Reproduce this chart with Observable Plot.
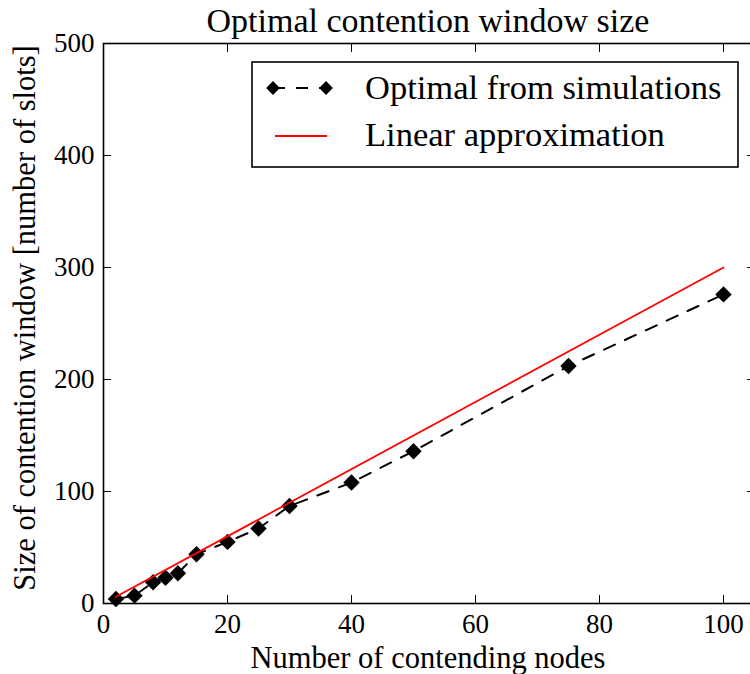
<!DOCTYPE html>
<html><head><meta charset="utf-8">
<script src="https://cdn.jsdelivr.net/npm/d3@7"></script>
<script src="https://cdn.jsdelivr.net/npm/@observablehq/plot@0.6"></script>
<style>
html,body{margin:0;padding:0;background:#fff;overflow:hidden;}
#wrap{position:relative;width:750px;height:674px;}
#wrap svg{position:absolute;left:0;top:0;overflow:hidden;}
</style></head><body><div id="wrap"></div>
<script>
// ---- data ----
const nodes = [2, 5, 8, 10, 12, 15, 20, 25, 30, 40, 50, 75, 100];
const optimal = [4, 7, 19, 23, 27, 44, 55, 67, 87, 108, 136, 212, 276];
const linearX = [2, 100];
const linearY = [6, 300];
const xTicks = [0, 20, 40, 60, 80, 100];
const yTicks = [0, 100, 200, 300, 400, 500];
const titleText = "Optimal contention window size";
const xLabel = "Number of contending nodes";
const yLabel = "Size of contention window [number of slots]";
const seriesNames = ["Optimal from simulations", "Linear approximation"];

const FONT = "'Liberation Serif', 'Times New Roman', serif";
const sim = nodes.map((n, i) => ({n, w: optimal[i]}));
const lin = linearX.map((n, i) => ({n, w: linearY[i]}));
const R = 7.4;
const RL = 6.2;

const plot = Plot.plot({
  width: 750, height: 674,
  marginLeft: 103, marginRight: -4, marginTop: 43, marginBottom: 71,
  style: {fontFamily: FONT, fontSize: "27px", color: "black", background: "white", overflow: "hidden"},
  x: {domain: [0, 105]},
  y: {domain: [0, 500]},
  marks: [
    Plot.line(sim, {x: "n", y: "w", stroke: "black", strokeWidth: 2, strokeDasharray: "12,11"}),
    Plot.dot(sim, {x: "n", y: "w", symbol: "diamond2", r: R, fill: "black", stroke: "none"}),
    Plot.line(lin, {x: "n", y: "w", stroke: "#ff0000", strokeWidth: 1.8}),
    Plot.axisX({anchor: "bottom", ticks: xTicks, tickSize: -8, tickPadding: 18, label: null, strokeWidth: 1}),
    Plot.axisX({anchor: "top", ticks: xTicks, tickSize: -8, tickFormat: () => "", label: null, strokeWidth: 1}),
    Plot.axisY({anchor: "left", ticks: yTicks, tickSize: -8, tickPadding: 17, label: null, strokeWidth: 1}),
    Plot.axisY({anchor: "right", ticks: yTicks, tickSize: -8, tickFormat: () => "", label: null, strokeWidth: 1}),
    Plot.frame({stroke: "black", strokeWidth: 1.6})
  ]
});
const wrap = document.getElementById("wrap");
wrap.appendChild(plot);

// ---- overlay: title, axis labels, legend ----
const ov = d3.select(wrap).append("svg")
  .attr("width", 750).attr("height", 674)
  .style("pointer-events", "none")
  .style("font-family", FONT);

ov.append("text").attr("x", 428).attr("y", 32).attr("text-anchor", "middle")
  .attr("font-size", 34).text(titleText);
ov.append("text").attr("x", 428).attr("y", 668).attr("text-anchor", "middle")
  .attr("font-size", 30.5).text(xLabel);
ov.append("text").attr("transform", "translate(35,318) rotate(-90)").attr("text-anchor", "middle")
  .attr("font-size", 30.5).text(yLabel);

const lg = ov.append("g");
lg.append("rect").attr("x", 252).attr("y", 62).attr("width", 486).attr("height", 105)
  .attr("fill", "white").attr("stroke", "black").attr("stroke-width", 1.6);
lg.append("line").attr("x1", 273).attr("x2", 326).attr("y1", 88).attr("y2", 88)
  .attr("stroke", "black").attr("stroke-width", 2).attr("stroke-dasharray", "12,11");
const diamond = d3.symbol(d3.symbolDiamond2, RL * RL * Math.PI)();
[273, 326].forEach(x => lg.append("path").attr("d", diamond).attr("transform", `translate(${x},88)`).attr("fill", "black"));
lg.append("line").attr("x1", 275).attr("x2", 327).attr("y1", 136).attr("y2", 136)
  .attr("stroke", "#ff0000").attr("stroke-width", 1.8);
lg.append("text").attr("x", 365).attr("y", 99).attr("font-size", 34.5).text(seriesNames[0]);
lg.append("text").attr("x", 365).attr("y", 146).attr("font-size", 34.5).text(seriesNames[1]);
</script></body></html>
